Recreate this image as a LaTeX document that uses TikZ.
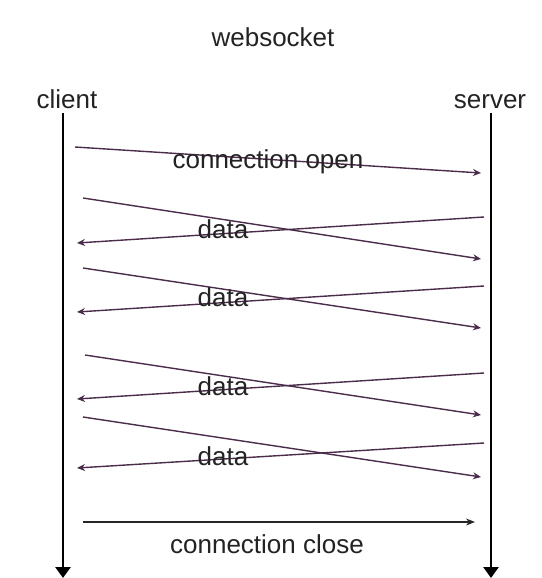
\documentclass[tikz,border=0pt]{standalone}
\usepackage{fontspec}
\setmainfont{Liberation Sans}
\usetikzlibrary{arrows.meta}
\definecolor{txt}{RGB}{35,35,35}
\definecolor{msg}{RGB}{75,45,75}
\definecolor{tipc}{RGB}{40,40,90}
\tikzset{
  lbl/.style={font=\fontsize{26}{30}\selectfont, text=txt, inner sep=0pt, anchor=base},
  life/.style={line width=2.6pt, black, -{Triangle[width=15pt,length=11pt]}},
  msgline/.style={line width=1.4pt, msg, -{Stealth[length=8pt,width=7pt,fill=tipc]}},
  closeline/.style={line width=1.2pt, black!85, -{Stealth[length=9pt,width=7pt]}}
}
\begin{document}
\begin{tikzpicture}[x=1pt,y=-1pt]
\useasboundingbox[fill=white] (0,0) rectangle (541,578);
% labels
\node[lbl] (title) at (273,47) {websocket};
\node[lbl] (client) at (67,108) {client};
\node[lbl] (server) at (490,108) {server};
% lifelines
\coordinate (c0) at (63,113);
\coordinate (c1) at (63,578);
\coordinate (s0) at (491,113);
\coordinate (s1) at (491,578);
\draw[life] (c0) -- (c1);
\draw[life] (s0) -- (s1);
% connection open
\coordinate (o0) at (75,147);
\coordinate (o1) at (481,173);
\draw[msgline] (o0) -- (o1);
\node[lbl] (lopen) at (268,168) {connection open};
% data 1
\coordinate (a0) at (83,198); \coordinate (a1) at (481,259);
\coordinate (b0) at (484,217); \coordinate (b1) at (77,243);
\draw[msgline] (a0) -- (a1);
\draw[msgline] (b0) -- (b1);
\node[lbl] (d1) at (223,238) {data};
% data 2
\coordinate (a2) at (83,268); \coordinate (a3) at (481,328);
\coordinate (b2) at (484,286); \coordinate (b3) at (77,312);
\draw[msgline] (a2) -- (a3);
\draw[msgline] (b2) -- (b3);
\node[lbl] (d2) at (223,306) {data};
% data 3
\coordinate (a4) at (85,355); \coordinate (a5) at (481,415);
\coordinate (b4) at (484,373); \coordinate (b5) at (77,399);
\draw[msgline] (a4) -- (a5);
\draw[msgline] (b4) -- (b5);
\node[lbl] (d3) at (223,395) {data};
% data 4
\coordinate (a6) at (83,417); \coordinate (a7) at (481,477);
\coordinate (b6) at (484,443); \coordinate (b7) at (77,468);
\draw[msgline] (a6) -- (a7);
\draw[msgline] (b6) -- (b7);
\node[lbl] (d4) at (223,465) {data};
% connection close
\coordinate (k0) at (83,522);
\coordinate (k1) at (475,522);
\draw[closeline] (k0) -- (k1);
\node[lbl] (lclose) at (267,553) {connection close};
\end{tikzpicture}
\end{document}
